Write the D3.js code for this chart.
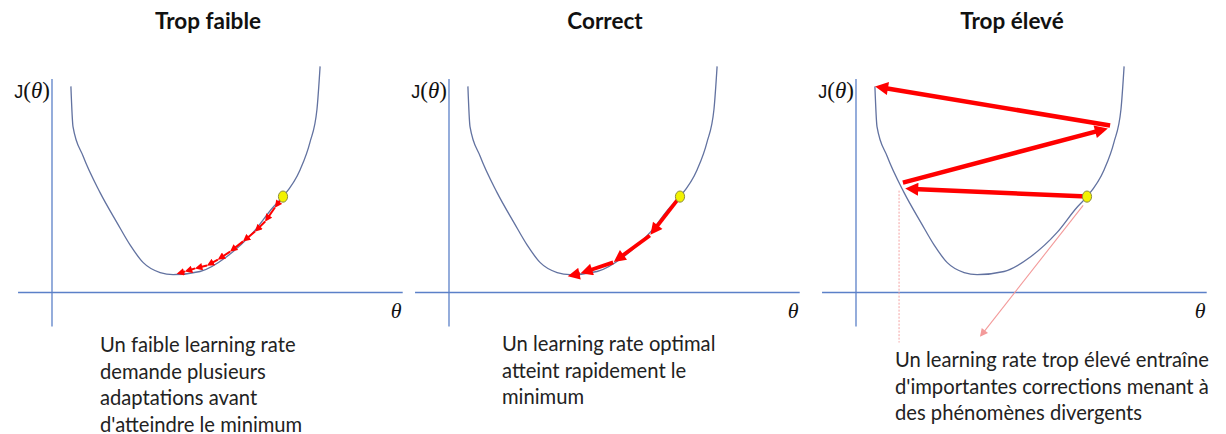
<!DOCTYPE html>
<html>
<head>
<meta charset="utf-8">
<script src="https://cdn.jsdelivr.net/npm/d3@7"></script>
<style>
  html, body { margin: 0; padding: 0; background: #fff; }
  svg { display: block; }
</style>
</head>
<body>
<div id="chart"></div>
<script>
// Panel titles and captions
var panelTitles = ["Trop faible", "Correct", "Trop élevé"];
var panelNotes = [
  ["Un faible learning rate", "demande plusieurs", "adaptations avant", "d'atteindre le minimum"],
  ["Un learning rate optimal", "atteint rapidement le", "minimum"],
  ["Un learning rate trop élevé entraîne", "d'importantes corrections menant à", "des phénomènes divergents"]
];

// Cost curve J(theta), same shape in every panel
var curveTheta = [0.54, 0.6, 0.89, 1.37, 1.86, 2.23, 2.6, 3.09, 3.46, 4.23, 5.0, 5.74, 6.31, 6.6, 7.09, 7.37, 7.57, 7.66];
var curveJ     = [5.89, 4.74, 3.89, 2.86, 1.99, 1.36, 0.86, 0.57, 0.51, 0.6, 1.03, 1.71, 2.43, 2.74, 3.51, 4.29, 5.23, 6.46];

// starting point (yellow dot)
var startTheta = 6.6, startJ = 2.74;

// small learning rate : many tiny steps
var slowTheta = [6.37, 6.09, 5.8, 5.46, 5.09, 4.74, 4.43, 4.09, 3.8, 3.57];
var slowJ     = [2.43, 2.03, 1.74, 1.46, 1.17, 0.94, 0.77, 0.69, 0.6, 0.54];

// good learning rate : a few larger steps
var goodTheta = [5.74, 4.69, 3.74, 3.37];
var goodJ     = [1.63, 0.86, 0.54, 0.46];

// too high learning rate : jumps across the valley
var highFromTheta = [6.6, 1.34, 7.26];
var highFromJ     = [2.74, 3.14, 4.77];
var highToTheta   = [1.4, 7.2, 0.54];
var highToJ       = [2.97, 4.69, 5.89];

// annotation lines of the third panel
var tangentTheta = [6.49, 3.57], tangentJ = [2.49, -1.23];
var dropTheta = 1.23, dropJ = [2.91, -1.43];

var W = 1226, H = 434;
var svg = d3.select("#chart").append("svg").attr("width", W).attr("height", H);

var defs = svg.append("defs");
function addMarker(id, len, wid, color, refX) {
  defs.append("marker")
    .attr("id", id)
    .attr("viewBox", "0 0 10 10")
    .attr("refX", refX).attr("refY", 5)
    .attr("markerUnits", "userSpaceOnUse")
    .attr("markerWidth", len).attr("markerHeight", wid)
    .attr("orient", "auto")
    .append("path")
    .attr("d", "M0,0 L10,5 L0,10 z")
    .attr("fill", color);
}
addMarker("headSmall", 8, 7.5, "#ff0000", 5);
addMarker("headMid", 14, 12, "#ff0000", 4);
addMarker("headBig", 15, 13, "#ff0000", 4);
addMarker("headPink", 9, 8, "#f39a9a", 8);

// origin of each panel (where axes cross)
var origins = [52, 449, 856];
var axisY = 292.5;
var unit = 35;
var noteX = [48, 53, 39];
var noteY = [352, 351, 367];

var axisColor = "#5b80c8";
var curveColor = "#6272a0";

function drawArrow(g, x, y, t0, j0, t1, j1, width, marker, back) {
  var x0 = x(t0), y0 = y(j0), x1 = x(t1), y1 = y(j1);
  var dx = x1 - x0, dy = y1 - y0, d = Math.sqrt(dx * dx + dy * dy);
  var ex = x1 - dx / d * back, ey = y1 - dy / d * back;
  g.append("line")
    .attr("x1", x0).attr("y1", y0)
    .attr("x2", ex).attr("y2", ey)
    .attr("stroke", "#ff0000")
    .attr("stroke-width", width)
    .attr("marker-end", "url(#" + marker + ")");
}

origins.forEach(function(ox, i) {
  var g = svg.append("g");

  var x = d3.scaleLinear().domain([0, 10]).range([ox, ox + 10 * unit]);
  var y = d3.scaleLinear().domain([0, 6]).range([axisY, axisY - 6 * unit]);

  // axes
  g.append("line")
    .attr("x1", x(-0.97)).attr("x2", x(10.02))
    .attr("y1", y(0)).attr("y2", y(0))
    .attr("stroke", axisColor).attr("stroke-width", 1.3);
  g.append("line")
    .attr("x1", x(0)).attr("x2", x(0))
    .attr("y1", y(6.1)).attr("y2", y(-0.97))
    .attr("stroke", axisColor).attr("stroke-width", 1.3);

  // axis labels
  var jl = g.append("text")
    .attr("x", x(0) - 2).attr("y", 98)
    .attr("text-anchor", "end")
    .attr("font-family", "'Liberation Serif', serif")
    .attr("font-size", 23)
    .attr("fill", "#111");
  jl.append("tspan").attr("font-family", "'Liberation Sans', sans-serif").attr("font-size", 18).text("J");
  jl.append("tspan").text("(");
  jl.append("tspan").attr("font-style", "italic").text("θ");
  jl.append("tspan").text(")");

  g.append("text")
    .attr("x", x(9.83)).attr("y", 318)
    .attr("text-anchor", "middle")
    .attr("font-family", "'Liberation Serif', serif")
    .attr("font-style", "italic")
    .attr("font-size", 22)
    .attr("fill", "#111")
    .text("θ");

  // cost curve
  var line = d3.line()
    .x(function(d, k) { return x(curveTheta[k]); })
    .y(function(d, k) { return y(curveJ[k]); })
    .curve(d3.curveMonotoneX);
  g.append("path")
    .attr("d", line(curveTheta))
    .attr("fill", "none")
    .attr("stroke", curveColor)
    .attr("stroke-width", 1.3);

  // steps
  if (i === 0) {
    var pt = startTheta, pj = startJ;
    slowTheta.forEach(function(t, k) {
      drawArrow(g, x, y, pt, pj, t, slowJ[k], 2, "headSmall", 3.5);
      pt = t; pj = slowJ[k];
    });
  } else if (i === 1) {
    var qt = startTheta, qj = startJ;
    goodTheta.forEach(function(t, k) {
      drawArrow(g, x, y, qt, qj, t, goodJ[k], 3.8, "headMid", 8);
      qt = t; qj = goodJ[k];
    });
  } else {
    // dotted drop line and tangent
    g.append("line")
      .attr("x1", x(dropTheta)).attr("x2", x(dropTheta))
      .attr("y1", y(dropJ[0])).attr("y2", y(dropJ[1]))
      .attr("stroke", "#f4a3a3").attr("stroke-width", 1)
      .attr("stroke-dasharray", "2,1.5");
    g.append("line")
      .attr("x1", x(tangentTheta[0])).attr("y1", y(tangentJ[0]))
      .attr("x2", x(tangentTheta[1])).attr("y2", y(tangentJ[1]))
      .attr("stroke", "#f39a9a").attr("stroke-width", 1.1)
      .attr("marker-end", "url(#headPink)");
    highFromTheta.forEach(function(t, k) {
      drawArrow(g, x, y, t, highFromJ[k], highToTheta[k], highToJ[k], 4.5, "headBig", 8);
    });
  }

  // starting point
  g.append("ellipse")
    .attr("cx", x(startTheta)).attr("cy", y(startJ))
    .attr("rx", 4.6).attr("ry", 5.6)
    .attr("fill", "#f2f200")
    .attr("stroke", "#8d8d3c")
    .attr("stroke-width", 1);

  // title
  g.append("text")
    .attr("x", ox + 156).attr("y", 29)
    .attr("text-anchor", "middle")
    .attr("font-family", "Lato, sans-serif")
    .attr("font-weight", "bold")
    .attr("font-size", 22.5)
    .attr("fill", "#111")
    .text(panelTitles[i]);

  // caption
  var note = g.append("text")
    .attr("font-family", "Lato, sans-serif")
    .attr("font-size", 20.2)
    .attr("fill", "#222");
  panelNotes[i].forEach(function(s, k) {
    note.append("tspan")
      .attr("x", ox + noteX[i])
      .attr("y", noteY[i] + k * 26.5)
      .text(s);
  });
});
</script>
</body>
</html>
